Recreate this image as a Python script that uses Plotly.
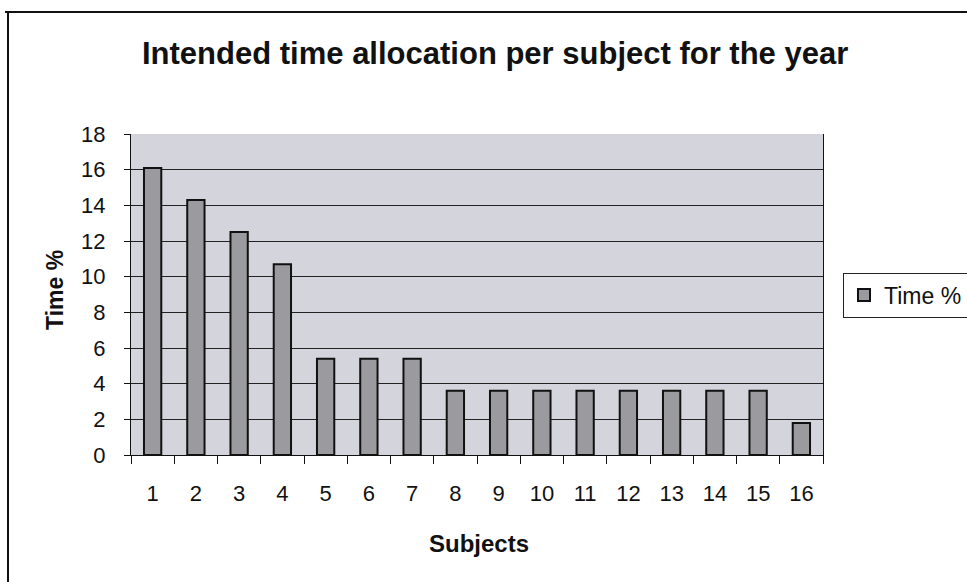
import plotly.graph_objects as go

# Subjects and the share of the year's time planned for each
subjects = [str(i) for i in range(1, 17)]
time_pct = [16.1, 14.3, 12.5, 10.7, 5.4, 5.4, 5.4, 3.6,
            3.6, 3.6, 3.6, 3.6, 3.6, 3.6, 3.6, 1.8]
y_ticks = [0, 2, 4, 6, 8, 10, 12, 14, 16, 18]

FONT = "Liberation Sans, Arial, sans-serif"

# Plot area geometry in pixels (window is 967 x 582)
W, H = 967, 582
L, R, T, B = 131, 823, 134, 455


def px_x(px):
    return (px - L) / (R - L)


def px_y(py):
    return (B - py) / (B - T)


fig = go.Figure(
    go.Bar(
        x=subjects,
        y=time_pct,
        name="Time %",
        marker=dict(color="#9a9a9f", line=dict(color="#111111", width=2)),
    )
)

fig.update_layout(
    width=W,
    height=H,
    margin=dict(l=L, r=W - R, t=T, b=H - B, autoexpand=False),
    paper_bgcolor="white",
    plot_bgcolor="#d4d5dc",
    bargap=0.6,
    font=dict(family=FONT, size=22, color="#111111"),
    showlegend=True,
    legend=dict(
        x=px_x(843), xanchor="left",
        y=px_y(295), yanchor="middle",
        bgcolor="white",
        bordercolor="#222222", borderwidth=1,
        font=dict(family=FONT, size=23, color="#111111"),
        itemwidth=30,
    ),
    xaxis=dict(
        type="category",
        showgrid=False,
        showline=True, linecolor="#111111", linewidth=1,
        ticks="outside", tickson="boundaries", ticklen=8,
        tickcolor="#111111", tickwidth=1,
        ticklabelstandoff=19,
        tickfont=dict(size=22),
    ),
    yaxis=dict(
        range=[0, 18],
        tickvals=y_ticks,
        showgrid=True, gridcolor="#222222", gridwidth=1,
        showline=True, linecolor="#111111", linewidth=1, mirror=True,
        ticks="outside", ticklen=6, tickcolor="#111111",
        ticklabelstandoff=14,
        tickfont=dict(size=22),
        zeroline=False,
    ),
    annotations=[
        dict(text="<b>Intended time allocation per subject for the year</b>",
             x=px_x(495), y=px_y(53), xref="paper", yref="paper",
             xanchor="center", yanchor="middle", showarrow=False,
             font=dict(family=FONT, size=31, color="#111111")),
        dict(text="<b>Time %</b>",
             x=px_x(55), y=px_y(290), xref="paper", yref="paper",
             xanchor="center", yanchor="middle", showarrow=False, textangle=-90,
             font=dict(family=FONT, size=23, color="#111111")),
        dict(text="<b>Subjects</b>",
             x=px_x(479), y=px_y(543), xref="paper", yref="paper",
             xanchor="center", yanchor="middle", showarrow=False,
             font=dict(family=FONT, size=24, color="#111111")),
    ],
    shapes=[
        # chart-area frame: top and left edges
        dict(type="line", xref="paper", yref="paper",
             x0=px_x(5), x1=px_x(W + 5), y0=px_y(12), y1=px_y(12),
             line=dict(color="#111111", width=2)),
        dict(type="line", xref="paper", yref="paper",
             x0=px_x(8), x1=px_x(8), y0=px_y(12), y1=px_y(H + 5),
             line=dict(color="#111111", width=2)),
    ],
)

fig.write_html("out.html")
